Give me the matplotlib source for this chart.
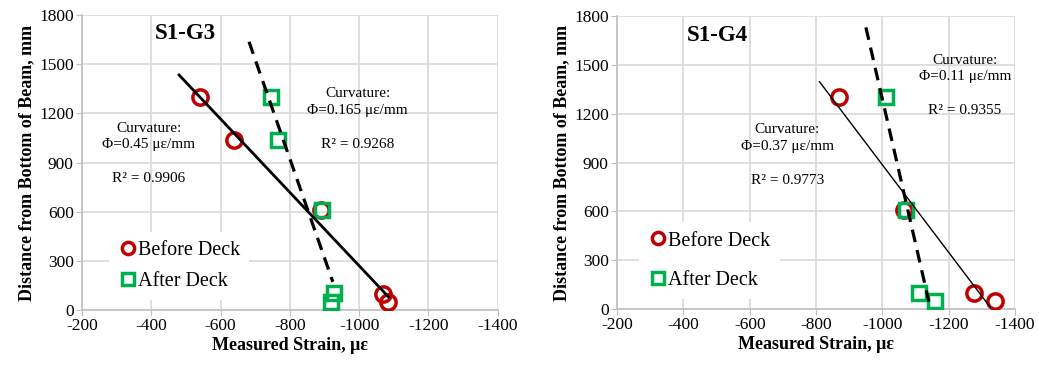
import numpy as np
import matplotlib.pyplot as plt

plt.rcParams['font.family'] = ['Liberation Serif', 'DejaVu Serif']
plt.rcParams['axes.unicode_minus'] = False

# S1-G3
g3_before_x = [-540, -638, -890, -1068, -1082]
g3_before_y = [1300, 1040, 610, 100, 50]
g3_after_x = [-745, -765, -893, -928, -918]
g3_after_y = [1300, 1040, 610, 105, 50]
g3_solid_span = [-480, -1085]
g3_dash_span = [-682, -924]

# S1-G4
g4_before_x = [-870, -1065, -1275, -1340]
g4_before_y = [1300, 610, 100, 50]
g4_after_x = [-1010, -1070, -1110, -1158]
g4_after_y = [1300, 610, 100, 50]
g4_solid_span = [-810, -1325]
g4_dash_span = [-950, -1140]

red = '#C00000'
green = '#00B050'
grid_c = '#D9D9D9'


def trend(ax, x, y, span, ls, lw):
    m, b = np.polyfit(x, y, 1)
    xs = np.array(span, dtype=float)
    ax.plot(xs, m * xs + b, color='black', ls=ls, lw=lw, zorder=4,
            dashes=(4, 2.5) if ls == '--' else (None, None))


def panel(ax, title, bx, by, axx, ay, solid_span, dash_span, solid_lw,
          txt_solid, txt_dash, title_pos, leg_anchor, leg_space):
    ax.plot(bx, by, 'o', ms=11, mfc='none', mec=red, mew=2.5, label='Before Deck', zorder=3)
    ax.plot(axx, ay, 's', ms=10, mfc='none', mec=green, mew=2.5, label='After Deck', zorder=3)
    trend(ax, bx, by, solid_span, '-', solid_lw)
    trend(ax, axx, ay, dash_span, '--', 2.3)

    ax.set_xlim(-200, -1400)
    ax.set_ylim(0, 1800)
    ax.set_xticks(np.arange(-200, -1401, -200))
    ax.set_yticks(np.arange(0, 1801, 300))
    ax.grid(True, color=grid_c, lw=1.2)
    ax.set_axisbelow(True)
    for s in ['top', 'right']:
        ax.spines[s].set_visible(False)
    for s in ['left', 'bottom']:
        ax.spines[s].set_color('#BFBFBF')
        ax.spines[s].set_linewidth(1.2)
    ax.tick_params(labelsize=12.5, length=4, color='#BFBFBF', pad=2)
    ax.set_xlabel('Measured Strain, με', fontsize=13, fontweight='bold', labelpad=2)
    ax.set_ylabel('Distance from Bottom of Beam, mm', fontsize=13, fontweight='bold', labelpad=3)
    ax.text(title_pos[0], title_pos[1], title, fontsize=16.5, fontweight='bold', ha='center', va='center')

    for (x, y, t, r2) in [txt_solid, txt_dash]:
        ax.text(x, y, 'Curvature:\nΦ=' + t + ' με/mm', fontsize=11, ha='center', va='center',
                linespacing=1.35)
        ax.text(x, y - 260, 'R² = ' + r2, fontsize=11, ha='center', va='center')

    leg = ax.legend(loc='lower left', bbox_to_anchor=leg_anchor, frameon=True, fontsize=14.5,
                    handletextpad=0.0, handlelength=1.0, labelspacing=leg_space, borderpad=0.45,
                    markerscale=0.8)
    leg.get_frame().set_edgecolor('none')
    leg.get_frame().set_facecolor('white')
    leg.get_frame().set_alpha(1)


fig = plt.figure(figsize=(10.39, 3.66), dpi=100)
ax1 = fig.add_axes([0.079, 0.153, 0.400, 0.806])
ax2 = fig.add_axes([0.594, 0.156, 0.383, 0.800])

panel(ax1, 'S1-G3', g3_before_x, g3_before_y, g3_after_x, g3_after_y,
      g3_solid_span, g3_dash_span, 2.0,
      (-393, 1060, '0.45', '0.9906'), (-996, 1270, '0.165', '0.9268'), (-497, 1690),
      (0.04, 0.0), 0.6)
panel(ax2, 'S1-G4', g4_before_x, g4_before_y, g4_after_x, g4_after_y,
      g4_solid_span, g4_dash_span, 1.0,
      (-713, 1050, '0.37', '0.9773'), (-1249, 1478, '0.11', '0.9355'), (-501, 1683),
      (0.03, 0.0), 1.0)

fig.savefig('out.png', dpi=100)
